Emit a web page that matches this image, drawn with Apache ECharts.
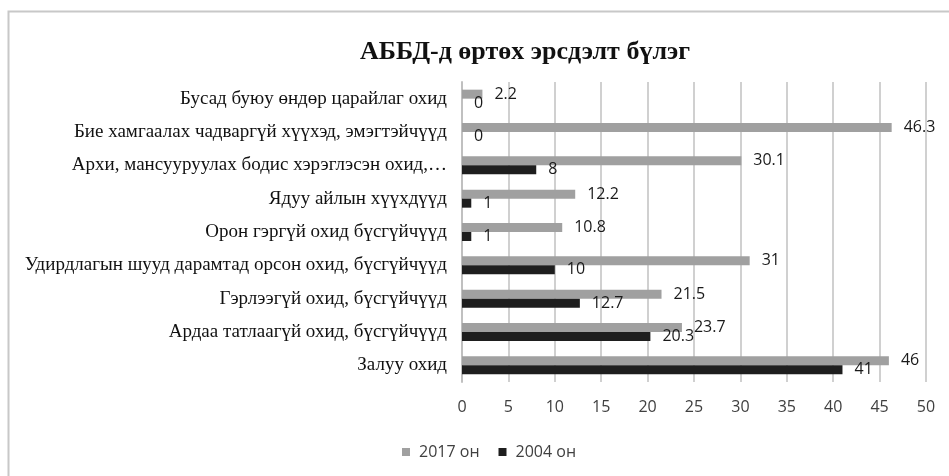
<!DOCTYPE html>
<html>
<head>
<meta charset="utf-8">
<script src="https://cdn.jsdelivr.net/npm/echarts@6/dist/echarts.min.js"></script>
<style>
html,body{margin:0;padding:0;background:#fff;}
#chart{width:949px;height:476px;}
</style>
</head>
<body>
<div id="chart"></div>
<script>
const categories = [
  "Бусад буюу өндөр царайлаг охид",
  "Бие хамгаалах чадваргүй хүүхэд, эмэгтэйчүүд",
  "Архи, мансууруулах бодис хэрэглэсэн охид,…",
  "Ядуу айлын хүүхдүүд",
  "Орон гэргүй охид бүсгүйчүүд",
  "Удирдлагын шууд дарамтад орсон охид, бүсгүйчүүд",
  "Гэрлээгүй охид, бүсгүйчүүд",
  "Ардаа татлаагүй охид, бүсгүйчүүд",
  "Залуу охид"
];
const values2017 = [2.2, 46.3, 30.1, 12.2, 10.8, 31, 21.5, 23.7, 46];
const values2004 = [0, 0, 8, 1, 1, 10, 12.7, 20.3, 41];
const seriesNames = ["2017 он", "2004 он"];
const xTicks = [0, 5, 10, 15, 20, 25, 30, 35, 40, 45, 50];

const chart = echarts.init(document.getElementById('chart'), null, {renderer: 'canvas'});
const labelStyle = {
  show: true, position: 'right', distance: 12,
  fontFamily: 'Open Sans', fontSize: 16, color: '#1a1a1a'
};
chart.setOption({
  animation: false,
  title: {
    text: 'АББД-д өртөх эрсдэлт бүлэг',
    left: 520, top: 34, textAlign: 'center',
    textStyle: {fontFamily: 'Liberation Serif', fontWeight: 'bold', fontSize: 26, color: '#111'}
  },
  graphic: [{
    type: 'rect', left: 6, top: 9, silent: true,
    shape: {width: 960, height: 480},
    style: {fill: 'none', stroke: '#c8c8c8', lineWidth: 2}
  }],
  legend: {
    data: seriesNames, left: 397, top: 439, itemWidth: 8, itemHeight: 8, itemGap: 19,
    icon: 'rect',
    textStyle: {fontFamily: 'Open Sans', fontSize: 16, color: '#404040', padding: [0,0,0,4]}
  },
  grid: {left: 462, right: 23, top: 82, bottom: 94, containLabel: false},
  xAxis: {
    type: 'value', min: xTicks[0], max: xTicks[xTicks.length-1], interval: 5,
    axisLine: {show: false}, axisTick: {show: false},
    splitLine: {show: true, lineStyle: {color: '#d0d0d0', width: 2}},
    axisLabel: {fontFamily: 'Open Sans', fontSize: 16, color: '#404040', margin: 17}
  },
  yAxis: {
    type: 'category', data: categories, inverse: true,
    axisLine: {show: true, lineStyle: {color: '#c0c0c0', width: 2}},
    axisTick: {show: false},
    axisLabel: {fontFamily: 'Liberation Serif', fontSize: 19, color: '#111', margin: 15}
  },
  series: [
    {name: seriesNames[0], type: 'bar', data: values2017, barGap: '0%', barCategoryGap: '46%',
     itemStyle: {color: '#a0a0a0'}, label: labelStyle},
    {name: seriesNames[1], type: 'bar', data: values2004, barGap: '0%', barCategoryGap: '46%',
     itemStyle: {color: '#1e1e1e'}, label: labelStyle}
  ]
});
</script>
</body>
</html>
